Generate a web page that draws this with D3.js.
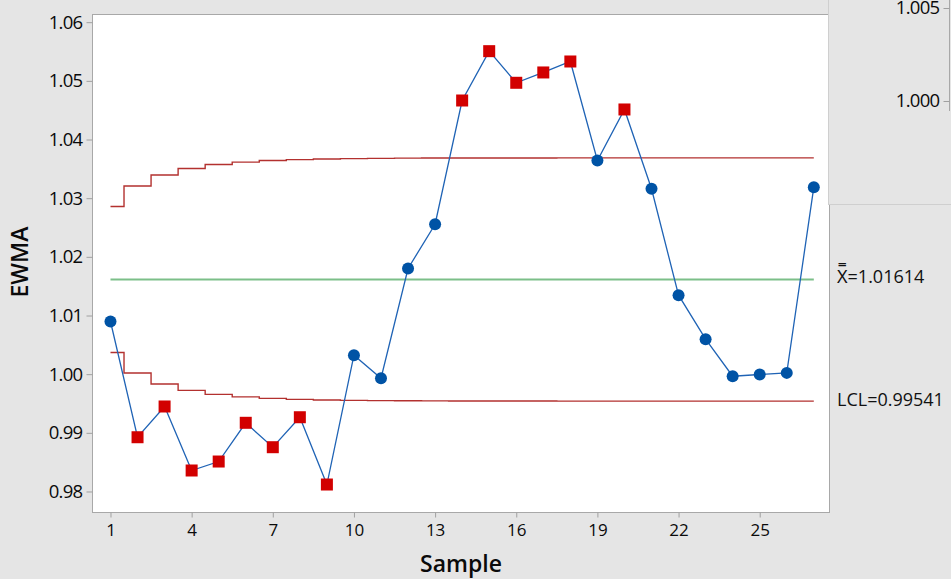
<!DOCTYPE html>
<html><head><meta charset="utf-8">
<script src="https://cdn.jsdelivr.net/npm/d3@7"></script>
<style>html,body{margin:0;padding:0;background:#e5e5e5;}svg{display:block;font-family:"Open Sans","Noto Sans",sans-serif;}</style>
</head><body>
<svg id="c" width="951" height="579"></svg>
<script>
// ---- data ----
const samples = d3.range(1, 28);
const ewma = [1.00898, 0.98925, 0.99449, 0.98358, 0.98511, 0.99171, 0.98755, 0.99266, 0.98119,
  1.00323, 0.99931, 1.01801, 1.02556, 1.04665, 1.05506, 1.04967, 1.05143, 1.05330, 1.03642,
  1.04512, 1.03160, 1.01346, 1.00596, 0.99965, 0.99994, 1.00022, 1.03187];
const ucl = [1.02858, 1.03207, 1.03395, 1.03505, 1.03573, 1.03615, 1.03641, 1.03658, 1.03668,
  1.03675, 1.03679, 1.03682, 1.03684, 1.03685, 1.03686, 1.03686, 1.03686, 1.03687, 1.03687,
  1.03687, 1.03687, 1.03687, 1.03687, 1.03687, 1.03687, 1.03687, 1.03687];
const lcl = [1.00370, 1.00021, 0.99833, 0.99723, 0.99655, 0.99613, 0.99587, 0.99570, 0.99560,
  0.99553, 0.99549, 0.99546, 0.99544, 0.99543, 0.99542, 0.99542, 0.99542, 0.99541, 0.99541,
  0.99541, 0.99541, 0.99541, 0.99541, 0.99541, 0.99541, 0.99541, 0.99541];
const center = 1.01614;
const yTicks = [0.98, 0.99, 1.00, 1.01, 1.02, 1.03, 1.04, 1.05, 1.06];
const xTicks = [1, 4, 7, 10, 13, 16, 19, 22, 25];
const labelCL = "=1.01614";
const labelLCL = "LCL=0.99541";
const insetTicks = ["1.005", "1.000"];

// ---- layout ----
const L = 92.5, R = 829.5, T = 14.5, B = 512.5;
const svg = d3.select("#c");
const x = d3.scaleLinear().domain([0.335, 27.58]).range([L, R]);
const y = d3.scaleLinear().domain([0.97642, 1.06131]).range([B, T]);

svg.append("rect").attr("width", 951).attr("height", 579).attr("fill", "#e5e5e5");
svg.append("rect").attr("x", L).attr("y", T).attr("width", R - L).attr("height", B - T)
  .attr("fill", "#fff").attr("stroke", "#a8a8a8").attr("stroke-width", 1);

// axes
const ya = svg.append("g").attr("transform", `translate(${L},0)`)
  .call(d3.axisLeft(y).tickValues(yTicks).tickFormat(d3.format(".2f")).tickSize(6).tickPadding(4));
ya.select(".domain").remove();
ya.selectAll(".tick line").attr("stroke", "#a0a0a0");
ya.selectAll(".tick text").attr("font-size", 18.5).attr("font-weight", 500).attr("fill", "#0a0a0a")
  .attr("letter-spacing", "-0.7").attr("font-family", "'Open Sans',sans-serif");

const xa = svg.append("g").attr("transform", `translate(0,${B})`)
  .call(d3.axisBottom(x).tickValues(xTicks).tickFormat(d3.format("d")).tickSize(5).tickPadding(6));
xa.select(".domain").remove();
xa.selectAll(".tick line").attr("stroke", "#a0a0a0");
xa.selectAll(".tick text").attr("font-size", 17).attr("font-weight", 500).attr("fill", "#0a0a0a")
  .attr("font-family", "'Open Sans',sans-serif");

// titles
svg.append("text").attr("x", 461).attr("y", 572).attr("text-anchor", "middle")
  .attr("font-size", 23).attr("font-weight", 600).attr("fill", "#0a0a0a").text("Sample");
svg.append("text").attr("transform", "translate(28,262) rotate(-90)").attr("text-anchor", "middle")
  .attr("font-size", 23).attr("font-weight", 600).attr("fill", "#0a0a0a").text("EWMA");

// control limits
const step = d3.line().x((d, i) => x(samples[i])).y(d => y(d)).curve(d3.curveStep);
svg.append("path").attr("d", step(ucl)).attr("fill", "none").attr("stroke", "#b3312f").attr("stroke-width", 1.4);
svg.append("path").attr("d", step(lcl)).attr("fill", "none").attr("stroke", "#b3312f").attr("stroke-width", 1.4);
svg.append("line").attr("x1", x(1)).attr("x2", x(27)).attr("y1", y(center)).attr("y2", y(center))
  .attr("stroke", "#7cbf89").attr("stroke-width", 2);

// data line
const ln = d3.line().x((d, i) => x(samples[i])).y(d => y(d));
svg.append("path").attr("d", ln(ewma)).attr("fill", "none").attr("stroke", "#1f63b5").attr("stroke-width", 1.3);

const pts = ewma.map((v, i) => ({s: samples[i], v, out: v > ucl[i] || v < lcl[i]}));
svg.selectAll("circle.p").data(pts.filter(d => !d.out)).join("circle")
  .attr("cx", d => x(d.s)).attr("cy", d => y(d.v)).attr("r", 6).attr("fill", "#0053a5");
svg.selectAll("rect.p").data(pts.filter(d => d.out)).join("rect")
  .attr("x", d => x(d.s) - 6).attr("y", d => y(d.v) - 6).attr("width", 12).attr("height", 12)
  .attr("fill", "#d20000");

// right labels
svg.append("text").attr("x", 837).attr("y", 283).attr("font-size", 18).attr("fill", "#111")
  .text("X\u033F" + labelCL);
svg.append("text").attr("x", 837).attr("y", 406).attr("font-size", 18).attr("fill", "#111").text(labelLCL);

// overlapping inset panel top-right
svg.append("rect").attr("x", 828.5).attr("y", -1).attr("width", 130).attr("height", 205.5)
  .attr("fill", "#e5e5e5").attr("stroke", "#cfcfcf");
const yi = d3.scaleLinear().domain([1.000, 1.005]).range([101, 8]);
const ia = svg.append("g").attr("transform", "translate(949.5,0)")
  .call(d3.axisLeft(yi).tickValues([1.005, 1.000]).tickFormat((d, i) => insetTicks[i]).tickSize(6).tickPadding(4));
ia.select(".domain").attr("stroke", "#a8a8a8").attr("d", "M0,-1V111");
ia.selectAll(".tick line").attr("stroke", "#a0a0a0");
ia.selectAll(".tick text").attr("font-size", 18.5).attr("font-weight", 500).attr("fill", "#0a0a0a")
  .attr("letter-spacing", "-0.7").attr("font-family", "'Open Sans',sans-serif");
</script>
</body></html>
